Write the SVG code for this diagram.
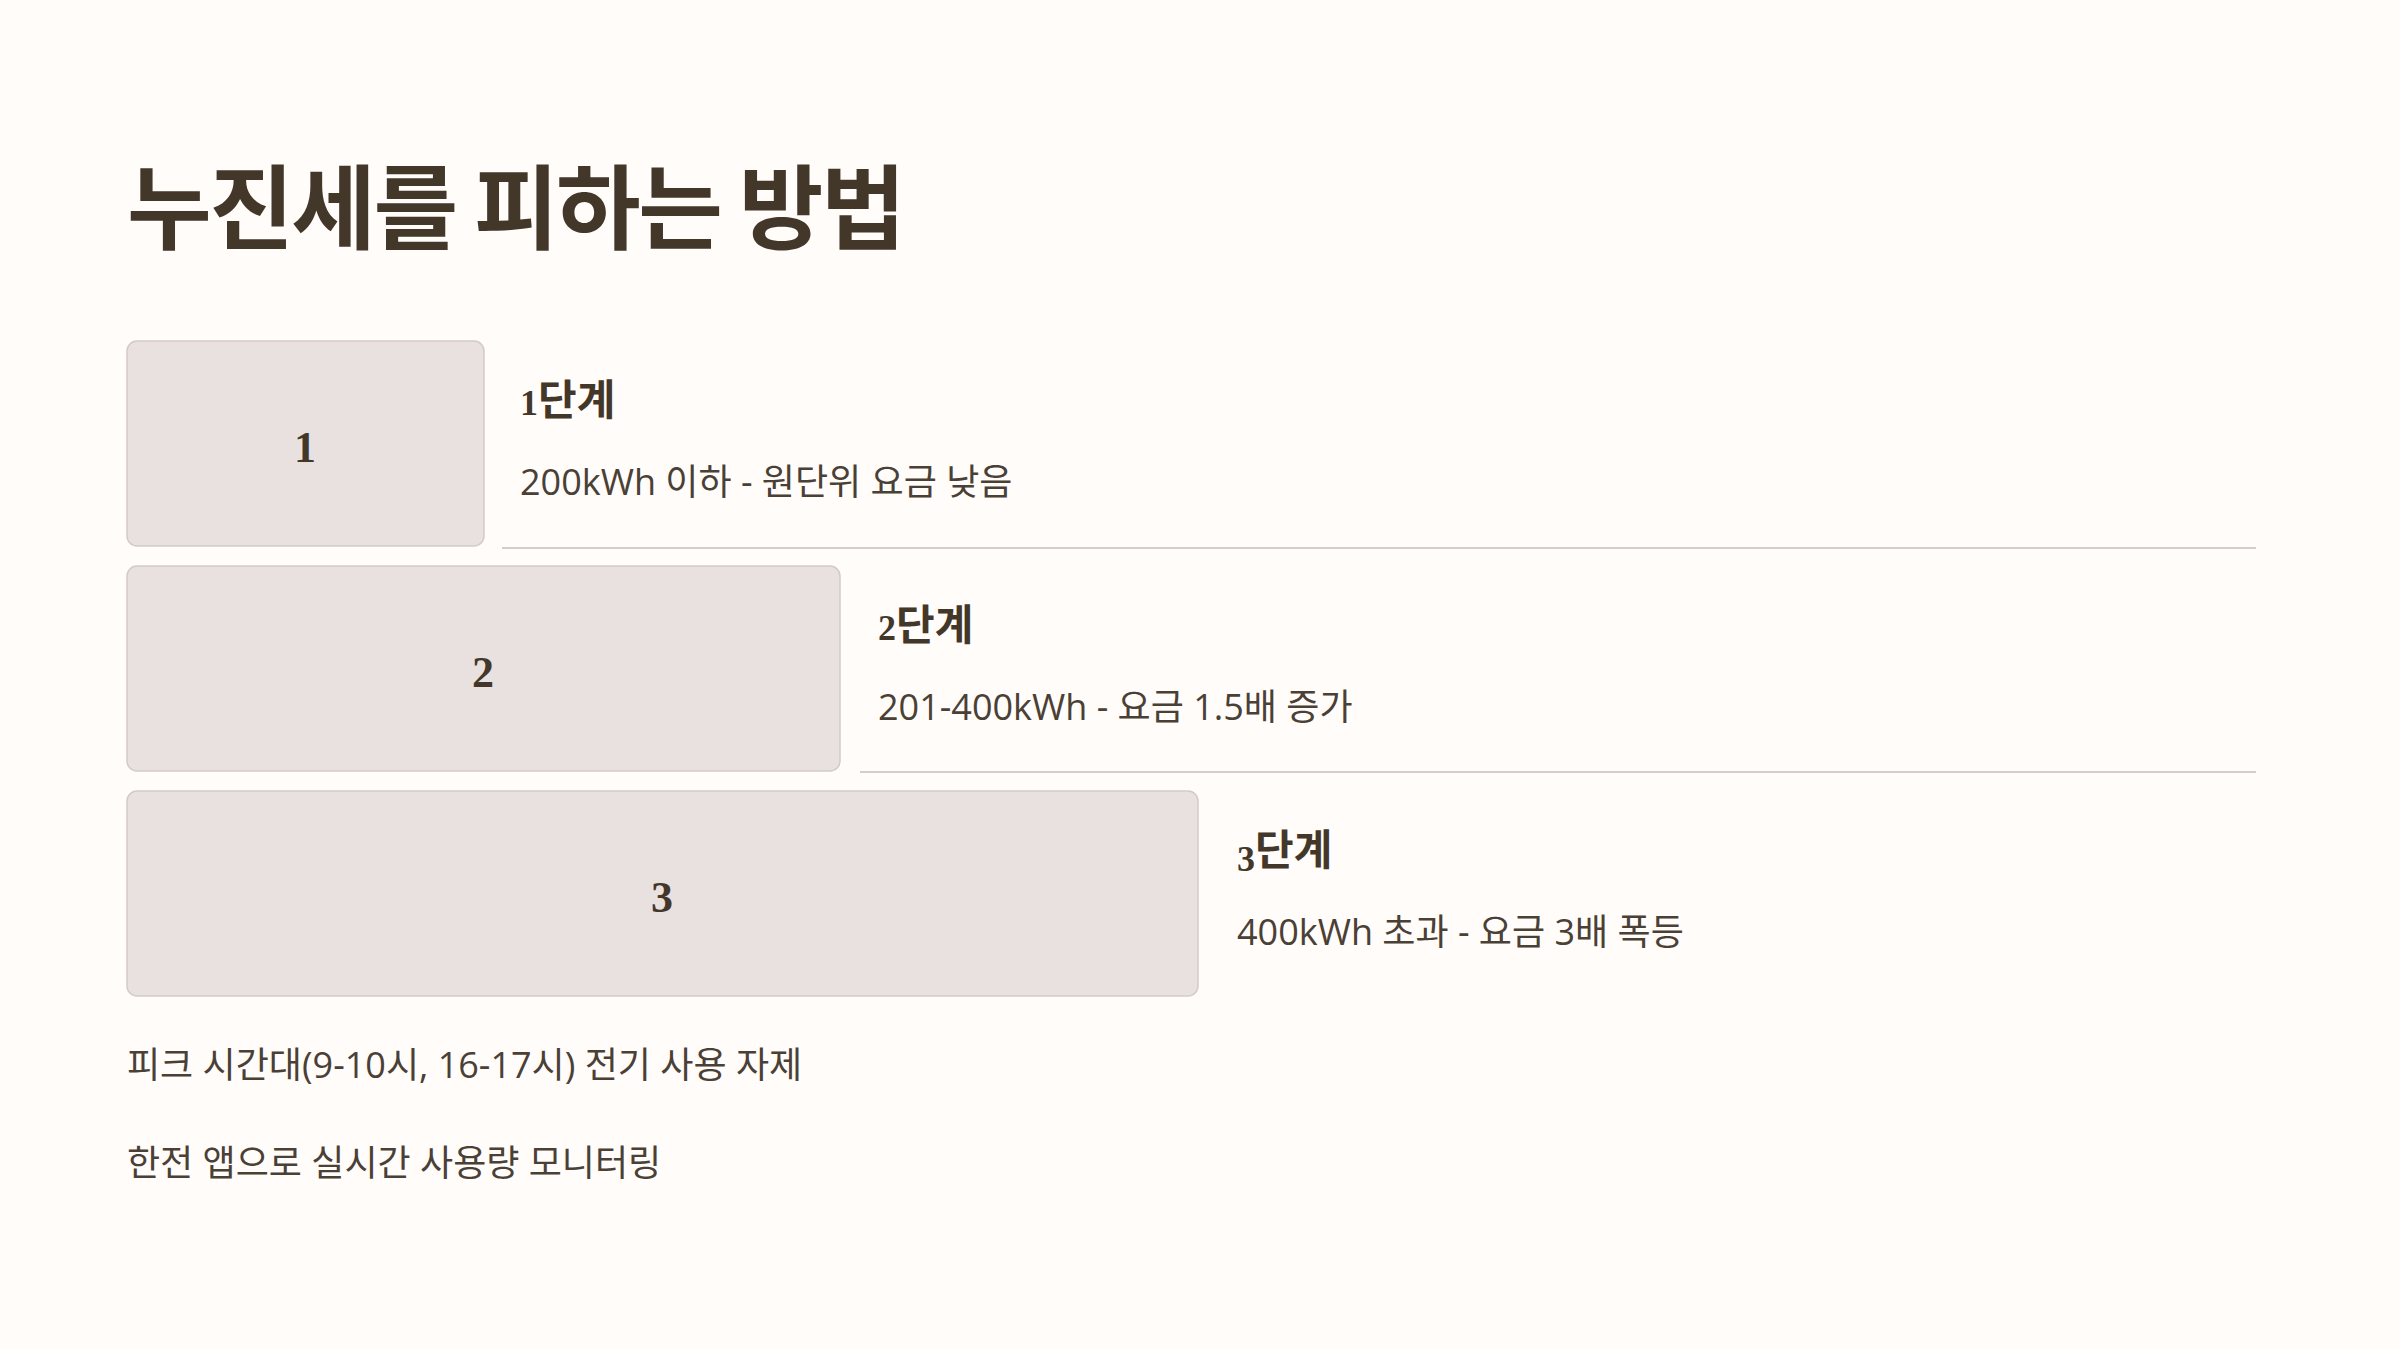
<svg xmlns="http://www.w3.org/2000/svg" width="2400" height="1350" viewBox="0 0 2400 1350">
<style>
.title{font-family:"Noto Sans CJK KR","Noto Sans",sans-serif;font-weight:700;font-size:92px;letter-spacing:-2.5px;fill:#43372a}
.box{fill:#e9e1e0;stroke:#d3cac8;stroke-width:1.5}
.num{font-family:"Liberation Serif","DejaVu Serif",serif;font-weight:700;font-size:44px;fill:#43372a;text-anchor:middle}
.head{font-family:"Noto Sans CJK KR","Noto Sans",sans-serif;font-weight:700;font-size:42px;fill:#43372a}
.hd{font-family:"Liberation Serif","DejaVu Serif",serif;font-weight:700;font-size:36px}
.desc{font-family:"Open Sans","Noto Sans CJK KR",sans-serif;font-weight:400;font-size:36px;fill:#4a4036}
.sep{stroke:#d6cdca;stroke-width:2}
</style>
<rect width="2400" height="1350" fill="#fffcfa"/>
<text class="title" x="127" y="242">누진세를 피하는 방법</text>
<g id="connectors">
<line class="sep" x1="502" y1="548" x2="2256" y2="548"/>
<line class="sep" x1="860" y1="772" x2="2256" y2="772"/>
</g>
<g id="step1">
<rect class="box" x="127" y="341" width="357" height="205" rx="10"/>
<text class="num" x="305" y="462">1</text>
<text class="head" x="520" y="415"><tspan class="hd">1</tspan>단계</text>
<text class="desc" x="520" y="495">200kWh 이하 - 원단위 요금 낮음</text>
</g>
<g id="step2">
<rect class="box" x="127" y="566" width="713" height="205" rx="10"/>
<text class="num" x="483" y="687">2</text>
<text class="head" x="878" y="640"><tspan class="hd">2</tspan>단계</text>
<text class="desc" x="878" y="720">201-400kWh - 요금 1.5배 증가</text>
</g>
<g id="step3">
<rect class="box" x="127" y="791" width="1071" height="205" rx="10"/>
<text class="num" x="662" y="912">3</text>
<text class="head" x="1237" y="865"><tspan class="hd" dy="6">3</tspan><tspan dy="-6">단계</tspan></text>
<text class="desc" x="1237" y="945">400kWh 초과 - 요금 3배 폭등</text>
</g>
<g id="tips">
<text class="desc" x="127" y="1078">피크 시간대(9-10시, 16-17시) 전기 사용 자제</text>
<text class="desc" x="127" y="1176">한전 앱으로 실시간 사용량 모니터링</text>
</g>
</svg>
